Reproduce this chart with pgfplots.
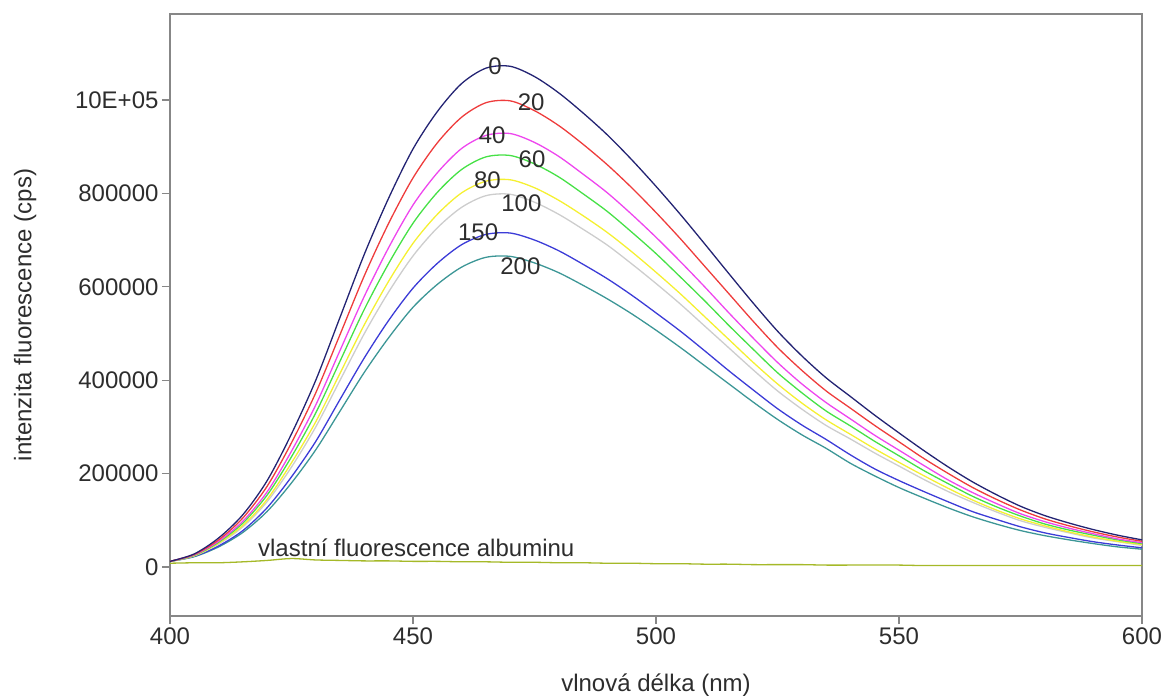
\documentclass[border=0pt]{standalone}
\usepackage{pgfplots}
\pgfplotsset{compat=1.18}
\usepackage{pgfplotstable}
\usepackage{fontspec}
\setmainfont{Liberation Sans}
\newcommand\fsz{\fontsize{24}{28}\selectfont}
\definecolor{cNavy}{RGB}{35,35,115}
\definecolor{cRed}{RGB}{238,60,60}
\definecolor{cMag}{RGB}{238,70,238}
\definecolor{cGreen}{RGB}{70,225,70}
\definecolor{cYel}{RGB}{245,240,50}
\definecolor{cGray}{RGB}{205,205,205}
\definecolor{cBlue}{RGB}{60,60,215}
\definecolor{cTeal}{RGB}{60,150,150}
\definecolor{cOlive}{RGB}{165,185,40}
\definecolor{cAx}{RGB}{135,135,135}
\definecolor{cTxt}{RGB}{45,45,45}

\pgfplotstableread{
nm a0 a20 a40 a60 a80 a100 a150 a200 alb
400 12 12 12 12 12 12 12 12 8
405 28 27 26 25 24 24 23 22 9
410 62 58 55 53 51 49 45 43 9
415 112 105 98 94 89 86 78 74 11
420 185 173 161 154 145 140 127 119 14
425 285 266 248 236 223 214 193 180 18
430 400 373 347 330 311 300 269 251 15
435 535 498 464 441 415 400 359 334 14
440 670 624 580 552 519 500 448 417 13
445 790 736 684 650 612 589 528 491 13
450 895 833 775 736 693 666 597 556 12
455 975 908 844 802 755 726 650 605 12
460 1035 963 896 851 801 770 690 642 11
465 1068 994 924 878 826 795 712 663 11
470 1072 998 928 881 829 798 715 665 10
475 1050 977 909 863 812 781 700 651 10
480 1015 945 879 835 785 755 677 630 9
485 972 905 841 799 752 723 648 603 9
490 925 861 801 761 716 689 617 574 8
495 872 812 755 717 675 649 582 542 8
500 815 759 706 671 631 607 544 507 7
505 755 703 654 621 585 563 505 470 7
510 692 644 600 570 536 516 463 431 6
515 628 585 544 517 487 469 420 392 6
520 565 526 490 466 438 422 379 353 5
525 505 470 438 416 392 377 339 316 5
530 452 421 392 373 351 338 304 283 5
535 405 377 352 334 315 303 273 254 4
540 365 340 317 302 284 274 240 222 4
545 325 303 282 269 253 244 210 195 4
550 287 268 250 238 224 216 185 170 4
555 250 233 218 207 196 188 162 148 3
560 215 201 187 179 169 162 140 127 3
565 183 171 160 152 144 139 119 108 3
570 155 145 136 129 122 118 102 92 3
575 130 122 114 109 103 99 86 78 3
580 110 103 97 92 88 85 73 67 3
585 94 88 83 79 75 73 63 58 3
590 80 75 71 68 64 62 54 50 3
595 68 64 60 58 55 54 47 43 3
600 58 55 52 50 48 46 41 38 3
}\spectra

\begin{document}
\begin{tikzpicture}
\begin{axis}[
  name=ax,
  scale only axis,
  width=972pt, height=602pt,
  xmin=400, xmax=600,
  ymin=-105, ymax=1184,
  xtick={400,450,500,550,600},
  xticklabels={400,450,500,550,600},
  ytick={0,200,400,600,800,1000},
  yticklabels={0,200000,400000,600000,800000,10E+05},
  tick pos=left,
  tick align=outside,
  major tick length=8pt,
  axis line style={cAx, line width=1.2pt},
  every tick/.style={cAx, line width=1.2pt},
  tick label style={font=\fsz, text=cTxt},
  xlabel={vlnová délka (nm)},
  ylabel={intenzita fluorescence (cps)},
  label style={font=\fsz, text=cTxt},
  xlabel style={at={(axis description cs:0.5,-0.115)}, anchor=center},
  ylabel style={at={(axis description cs:-0.149,0.5)}, anchor=center},
  every axis plot/.append style={line width=1.3pt, smooth},
  clip=false,
]
\addplot[cOlive] table[x=nm, y=alb] {\spectra};
\addplot[cTeal] table[x=nm, y=a200] {\spectra};
\addplot[cBlue] table[x=nm, y=a150] {\spectra};
\addplot[cGray] table[x=nm, y=a100] {\spectra};
\addplot[cYel] table[x=nm, y=a80] {\spectra};
\addplot[cGreen] table[x=nm, y=a60] {\spectra};
\addplot[cMag] table[x=nm, y=a40] {\spectra};
\addplot[cRed] table[x=nm, y=a20] {\spectra};
\addplot[cNavy] table[x=nm, y=a0] {\spectra};
\draw[cAx, line width=2.6pt] (rel axis cs:0,1) -- (rel axis cs:1,1);
\begin{scope}[every node/.style={font=\fsz, text=cTxt, inner sep=0pt}]
\node at (axis cs:466.9,1073) {0};
\node at (axis cs:474.3,996) {20};
\node at (axis cs:466.3,925) {40};
\node at (axis cs:474.5,872) {60};
\node at (axis cs:465.3,829) {80};
\node at (axis cs:472.3,779) {100};
\node at (axis cs:463.4,717) {150};
\node at (axis cs:472.1,644) {200};
\node[anchor=west] at (axis cs:418.1,41) {vlastní fluorescence albuminu};
\end{scope}
\end{axis}
\path ([xshift=-170pt,yshift=-82pt]ax.south west) rectangle ([xshift=26pt,yshift=14pt]ax.north east);
\end{tikzpicture}
\end{document}
